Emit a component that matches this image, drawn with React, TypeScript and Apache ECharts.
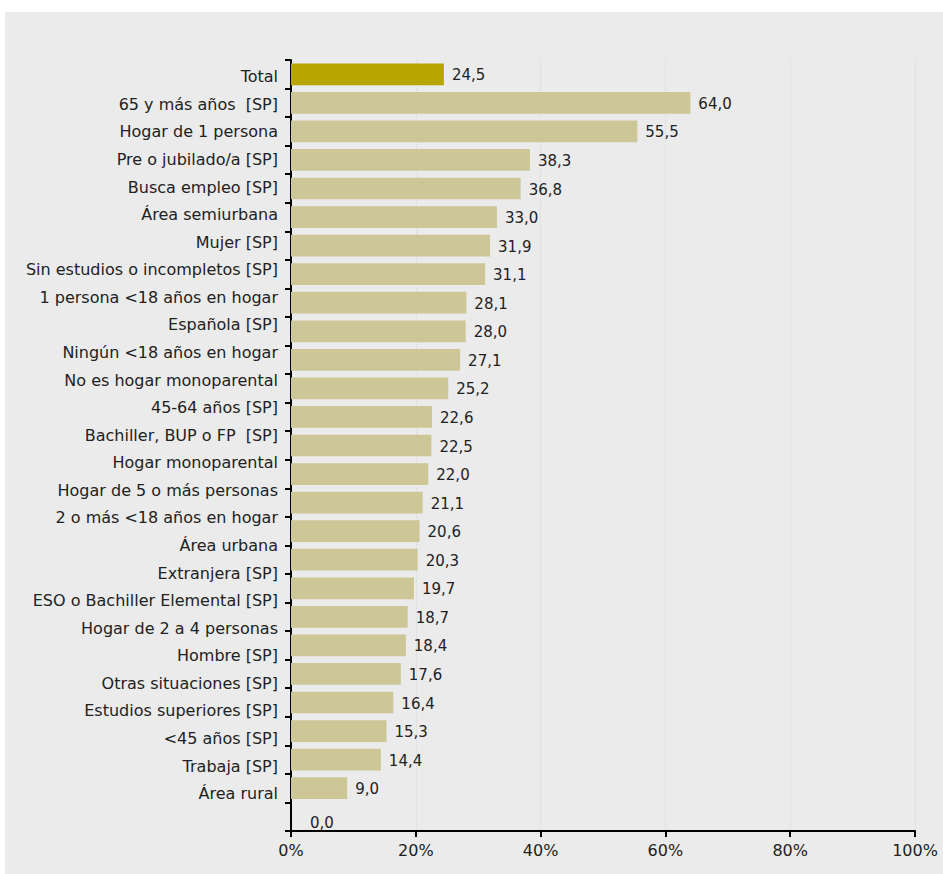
import React, { useEffect, useRef } from "react";
import * as echarts from "echarts";

const categories = [
  "Total",
  "65 y más años  [SP]",
  "Hogar de 1 persona",
  "Pre o jubilado/a [SP]",
  "Busca empleo [SP]",
  "Área semiurbana",
  "Mujer [SP]",
  "Sin estudios o incompletos [SP]",
  "1 persona <18 años en hogar",
  "Española [SP]",
  "Ningún <18 años en hogar",
  "No es hogar monoparental",
  "45-64 años [SP]",
  "Bachiller, BUP o FP  [SP]",
  "Hogar monoparental",
  "Hogar de 5 o más personas",
  "2 o más <18 años en hogar",
  "Área urbana",
  "Extranjera [SP]",
  "ESO o Bachiller Elemental [SP]",
  "Hogar de 2 a 4 personas",
  "Hombre [SP]",
  "Otras situaciones [SP]",
  "Estudios superiores [SP]",
  "<45 años [SP]",
  "Trabaja [SP]",
  "Área rural",
];

const values = [
  24.5, 64.0, 55.5, 38.3, 36.8, 33.0, 31.9, 31.1, 28.1, 28.0, 27.1, 25.2, 22.6,
  22.5, 22.0, 21.1, 20.6, 20.3, 19.7, 18.7, 18.4, 17.6, 16.4, 15.3, 14.4, 9.0,
  0.0,
];

const xTicks = [0, 20, 40, 60, 80, 100];

const FONT = "DejaVu Sans";

export default function App() {
  const ref = useRef<HTMLDivElement>(null);
  useEffect(() => {
    if (!ref.current) return;
    const chart = echarts.init(ref.current, null, { renderer: "svg" });
    const data = values.map((v, i) => ({
      value: v,
      itemStyle: { color: i === 0 ? "#b7a600" : "#cdc697" },
      label: v === 0 ? { distance: 19, offset: [0, 6] } : undefined,
    }));
    // the category labels sit on a slightly tighter spacing than the bars
    const labelAxisData = [...categories, ""];
    chart.setOption({
      animation: false,
      backgroundColor: "#ffffff",
      graphic: [
        {
          type: "rect",
          left: 5,
          top: 12,
          shape: { width: 938, height: 862 },
          style: { fill: "#ebebeb" },
          z: -10,
        },
      ],
      grid: [
        { left: 291, right: 28, top: 60, bottom: 43, containLabel: false },
        { left: 291, right: 28, top: 63, bottom: 39, containLabel: false },
      ],
      xAxis: [
        {
          type: "value",
          gridIndex: 0,
          min: xTicks[0],
          max: xTicks[xTicks.length - 1],
          interval: 20,
          axisLine: { show: true, lineStyle: { color: "#000", width: 2 } },
          axisTick: { show: true, length: 6, lineStyle: { color: "#000", width: 2 } },
          axisLabel: {
            formatter: (v: number) => `${v}%`,
            color: "#222",
            fontFamily: FONT,
            fontSize: 16,
            margin: 11,
          },
          splitLine: { show: true, lineStyle: { color: "#d8d8d8", type: "dotted", width: 1 } },
        },
        {
          type: "value",
          gridIndex: 1,
          min: 0,
          max: 100,
          show: false,
        },
      ],
      yAxis: [
        {
          type: "category",
          gridIndex: 0,
          data: categories,
          inverse: true,
          axisLine: { show: true, lineStyle: { color: "#000", width: 2 } },
          axisTick: { show: true, length: 6, lineStyle: { color: "#000", width: 2 } },
          axisLabel: { show: false },
          splitLine: { show: false },
        },
        {
          type: "category",
          gridIndex: 1,
          data: labelAxisData,
          inverse: true,
          position: "left",
          axisLine: { show: false },
          axisTick: { show: false },
          axisLabel: {
            color: "#222",
            fontFamily: FONT,
            fontSize: 16,
            margin: 13,
          },
          splitLine: { show: false },
        },
      ],
      series: [
        {
          type: "bar",
          xAxisIndex: 0,
          yAxisIndex: 0,
          data,
          barCategoryGap: "24%",
          label: {
            show: true,
            position: "right",
            distance: 8,
            offset: [0, 1],
            color: "#222",
            fontFamily: FONT,
            fontSize: 15,
            formatter: (p: any) => p.value.toFixed(1).replace(".", ","),
          },
        },
      ],
    });
    return () => chart.dispose();
  }, []);
  return (
    <div
      ref={ref}
      style={{ position: "absolute", left: 0, top: 0, width: 943, height: 874 }}
    />
  );
}
